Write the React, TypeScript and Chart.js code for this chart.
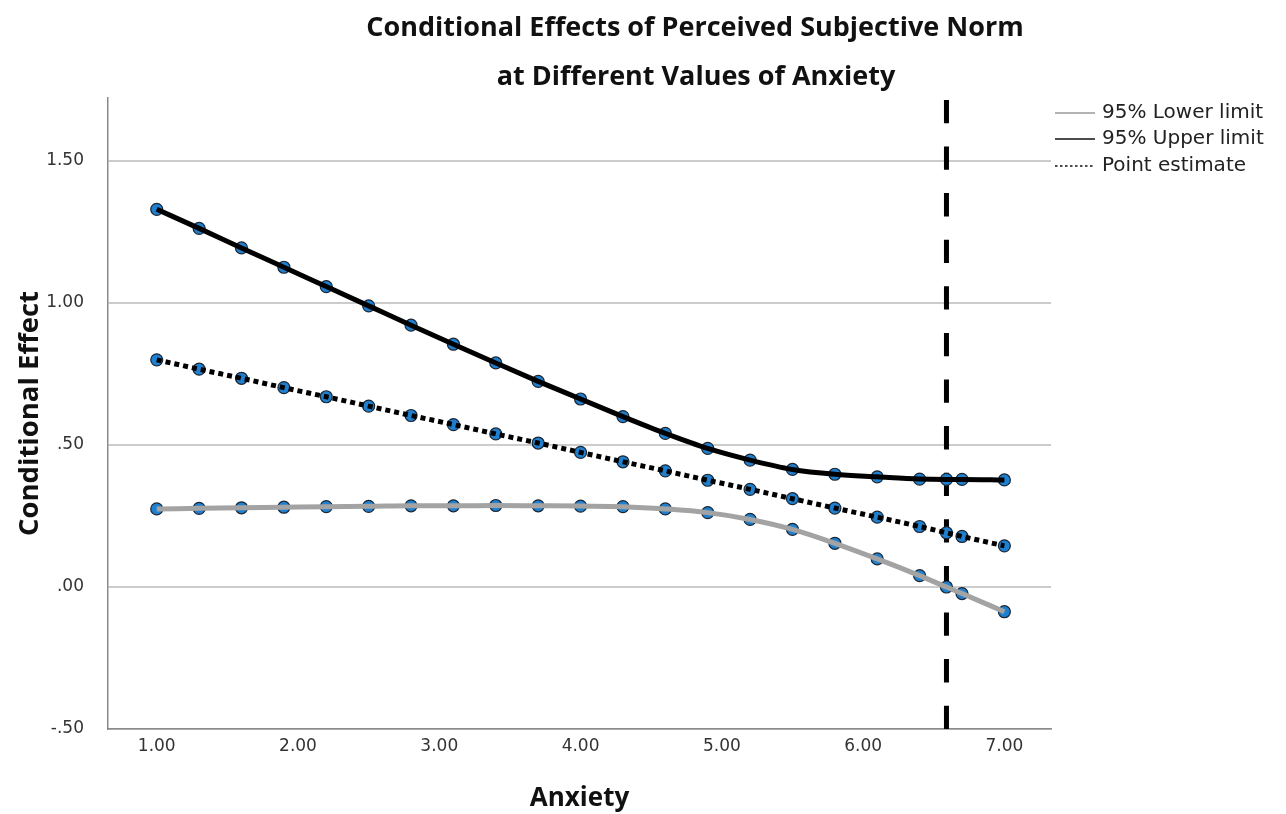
import { useEffect, useRef } from "react";
import { Chart, registerables } from "chart.js";

Chart.register(...registerables);

// ---- data ----
const anxiety = [1.0, 1.3, 1.6, 1.9, 2.2, 2.5, 2.8, 3.1, 3.4, 3.7, 4.0, 4.3, 4.6, 4.9, 5.2, 5.5, 5.8, 6.1, 6.4, 6.59, 6.7, 7.0];
const upperLimit = [1.330, 1.263, 1.194, 1.126, 1.058, 0.990, 0.922, 0.855, 0.789, 0.724, 0.662, 0.600, 0.541, 0.488, 0.447, 0.414, 0.397, 0.388, 0.380, 0.379, 0.379, 0.377];
const pointEstimate = [0.800, 0.767, 0.735, 0.702, 0.670, 0.637, 0.604, 0.572, 0.539, 0.507, 0.474, 0.441, 0.409, 0.376, 0.344, 0.311, 0.278, 0.246, 0.213, 0.191, 0.178, 0.145];
const lowerLimit = [0.275, 0.277, 0.279, 0.281, 0.283, 0.284, 0.286, 0.286, 0.287, 0.286, 0.285, 0.283, 0.275, 0.262, 0.238, 0.203, 0.154, 0.099, 0.040, 0.000, -0.023, -0.087];
const jnPoint = 6.59;
const xTicks = [1, 2, 3, 4, 5, 6, 7];
const yTicks = [-0.5, 0, 0.5, 1, 1.5];
const xRange = [0.655, 7.33];
const yRange = [-0.5, 1.722];
const titleLines = ["Conditional Effects of Perceived Subjective Norm", "at Different Values of Anxiety"];
const xTitle = "Anxiety";
const yTitle = "Conditional Effect";
const legendLabels = ["95% Lower limit", "95% Upper limit", "Point estimate"];

const fmt = (v: number) => {
  const s = Math.abs(v).toFixed(2).replace(/^0/, "");
  return v < 0 ? "-" + s : s;
};

const toPts = (ys: number[]) => anxiety.map((x, i) => ({ x, y: ys[i] }));

const LOWER_COLOR = "#a3a3a3";
const MARKER_FILL = "#2080d0";
const MARKER_EDGE = "#1b2633";

const overlayPlugin = {
  id: "overlay",
  afterDraw(chart: any) {
    const ctx = chart.ctx as CanvasRenderingContext2D;
    ctx.save();
    ctx.fillStyle = "#111";
    ctx.font = 'bold 27px "Open Sans"';
    ctx.textAlign = "center";
    ctx.textBaseline = "middle";
    ctx.fillText(titleLines[0], 695, 28);
    ctx.fillText(titleLines[1], 696, 77);

    const rows = [113, 139, 166];
    const styles = [
      { color: "#9a9a9a", dash: [] as number[] },
      { color: "#111", dash: [] as number[] },
      { color: "#111", dash: [2.5, 2.5] },
    ];
    ctx.font = '20px "DejaVu Sans"';
    ctx.textAlign = "left";
    legendLabels.forEach((lab, i) => {
      const y = rows[i];
      ctx.strokeStyle = styles[i].color;
      ctx.lineWidth = 1.5;
      ctx.setLineDash(styles[i].dash);
      ctx.beginPath();
      ctx.moveTo(1055, y);
      ctx.lineTo(1095, y);
      ctx.stroke();
      ctx.setLineDash([]);
      ctx.fillStyle = "#222";
      ctx.fillText(lab, 1102, y);
    });
    ctx.restore();
  },
};

export default function App() {
  const ref = useRef<HTMLCanvasElement | null>(null);

  useEffect(() => {
    let chart: Chart | null = null;
    let cancelled = false;
    const make = () => {
      if (cancelled || !ref.current) return;
      const curve = (ys: number[], color: string, dash: number[]) => ({
        type: "line" as const,
        data: toPts(ys),
        borderColor: color,
        borderWidth: 5,
        borderDash: dash,
        pointRadius: 0,
        cubicInterpolationMode: "monotone" as const,
        fill: false,
        order: 1,
      });
      const markers = (ys: number[]) => ({
        type: "scatter" as const,
        data: toPts(ys),
        showLine: false,
        pointRadius: 6,
        pointBackgroundColor: MARKER_FILL,
        pointBorderColor: MARKER_EDGE,
        pointBorderWidth: 1.2,
        order: 2,
      });
      chart = new Chart(ref.current, {
        type: "line",
        data: {
          datasets: [
            curve(lowerLimit, LOWER_COLOR, []),
            curve(upperLimit, "#000", []),
            curve(pointEstimate, "#000", [5, 4]),
            markers(lowerLimit),
            markers(upperLimit),
            markers(pointEstimate),
            {
              type: "line",
              data: [
                { x: jnPoint, y: yRange[0] },
                { x: jnPoint, y: yRange[1] },
              ],
              borderColor: "#000",
              borderWidth: 5,
              borderDash: [23.3, 23.3],
              pointRadius: 0,
              order: 3,
            } as any,
          ] as any,
        },
        options: {
          responsive: false,
          animation: false,
          events: [],
          layout: { padding: { left: 0, right: 235, top: 98, bottom: 0 } },
          plugins: {
            legend: { display: false },
            title: { display: false },
            tooltip: { enabled: false },
          },
          scales: {
            x: {
              type: "linear",
              min: xRange[0],
              max: xRange[1],
              afterBuildTicks: (s: any) => {
                s.ticks = xTicks.map((v) => ({ value: v }));
              },
              afterFit: (s: any) => {
                s.height = 85;
              },
              grid: { display: false, drawTicks: false },
              border: { display: true, color: "#8a8a8a", width: 1.5 },
              ticks: {
                padding: 7,
                color: "#333",
                font: { family: "DejaVu Sans", size: 17 },
                callback: (v: any) => Number(v).toFixed(2),
                maxRotation: 0,
              },
              title: {
                display: true,
                text: xTitle,
                color: "#111",
                font: { family: "Open Sans", size: 26, weight: "bold" },
                padding: { top: 0, bottom: 0 },
              },
            },
            y: {
              type: "linear",
              min: yRange[0],
              max: yRange[1],
              afterBuildTicks: (s: any) => {
                s.ticks = yTicks.map((v) => ({ value: v }));
              },
              afterFit: (s: any) => {
                s.width = 108;
              },
              grid: { display: true, color: "#cccccc", lineWidth: 2, drawTicks: false },
              border: { display: true, color: "#8a8a8a", width: 1.5 },
              ticks: {
                padding: 24,
                color: "#333",
                font: { family: "DejaVu Sans", size: 17 },
                callback: (v: any) => fmt(Number(v)),
              },
              title: {
                display: true,
                text: yTitle,
                color: "#111",
                font: { family: "Open Sans", size: 27.5, weight: "bold" },
                padding: { top: 14, bottom: 0 },
              },
            },
          },
        },
        plugins: [overlayPlugin],
      });
    };
    const fonts: any = (document as any).fonts;
    if (fonts && fonts.load) {
      Promise.all([
        fonts.load('bold 24px "Open Sans"'),
        fonts.load('17px "DejaVu Sans"'),
      ])
        .catch(() => null)
        .then(make);
    } else {
      make();
    }
    return () => {
      cancelled = true;
      if (chart) chart.destroy();
    };
  }, []);

  return (
    <div style={{ position: "fixed", left: 0, top: 0, width: 1286, height: 814, background: "#fff" }}>
      <canvas ref={ref} width={1286} height={814} style={{ width: 1286, height: 814 }} />
    </div>
  );
}
